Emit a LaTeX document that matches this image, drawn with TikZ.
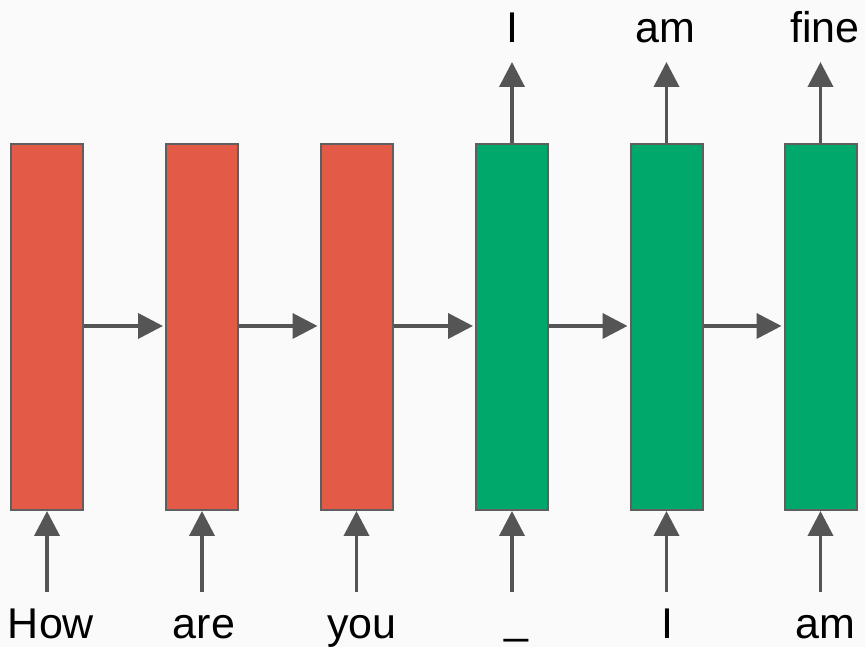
\documentclass[tikz,border=0pt]{standalone}
\usepackage{fontspec}
\setmainfont{Liberation Sans}
\usetikzlibrary{arrows.meta}
\definecolor{encred}{HTML}{E35B47}
\definecolor{decgreen}{HTML}{00A96B}
\definecolor{edgegray}{HTML}{5F5F5F}
\definecolor{arrowgray}{HTML}{555555}
\definecolor{bgcol}{HTML}{FAFAFA}
\tikzset{
  cell/.style={draw=edgegray, line width=2pt, minimum width=72pt, minimum height=366pt, inner sep=0pt},
  enc/.style={cell, fill=encred},
  dec/.style={cell, fill=decgreen},
  conn/.style={draw=arrowgray, line width=3.8pt, -{Triangle[length=25pt,width=25pt]}},
  word/.style={font=\fontsize{43}{50}\selectfont, anchor=base, inner sep=0pt}
}
\begin{document}
\begin{tikzpicture}[x=1pt,y=1pt]
\fill[bgcol] (0,0) rectangle (865,647);
\useasboundingbox (0,0) rectangle (865,647);
% cells
\node[enc] (c1) at (47,320) {};
\node[enc] (c2) at (202,320) {};
\node[enc] (c3) at (356.5,320) {};
\node[dec] (c4) at (512,320) {};
\node[dec] (c5) at (666.5,320) {};
\node[dec] (c6) at (820.5,320) {};
% recurrent connections
\foreach \a/\b in {c1/c2,c2/c3,c3/c4,c4/c5,c5/c6}{
  \draw[conn, shorten >=2pt] (\a.east |- 0,321) -- (\b.west |- 0,321);
}
% inputs
\foreach \c in {c1,c2,c3,c4,c5,c6}{
  \coordinate (\c in) at (\c.south |- 0,55);
  \draw[conn] (\c in) -- (\c.south);
  \coordinate (\c out) at (\c.north |- 0,585);
}
\foreach \c in {c4,c5,c6}{
  \draw[conn] (\c.north) -- (\c out);
}
% bottom words
\node[word] (w1) at (51,8) {How};
\node[word] (w2) at (204,8) {are};
\node[word] (w3) at (362,8) {you};
\node[word] (w4) at (516.5,13) {\_};
\node[word] (w5) at (667,8) {I};
\node[word] (w6) at (825.5,8) {am};
% top words
\node[word] (o1) at (512,604) {I};
\node[word] (o2) at (665,604) {am};
\node[word] (o3) at (825,604) {fine};
\end{tikzpicture}
\end{document}
